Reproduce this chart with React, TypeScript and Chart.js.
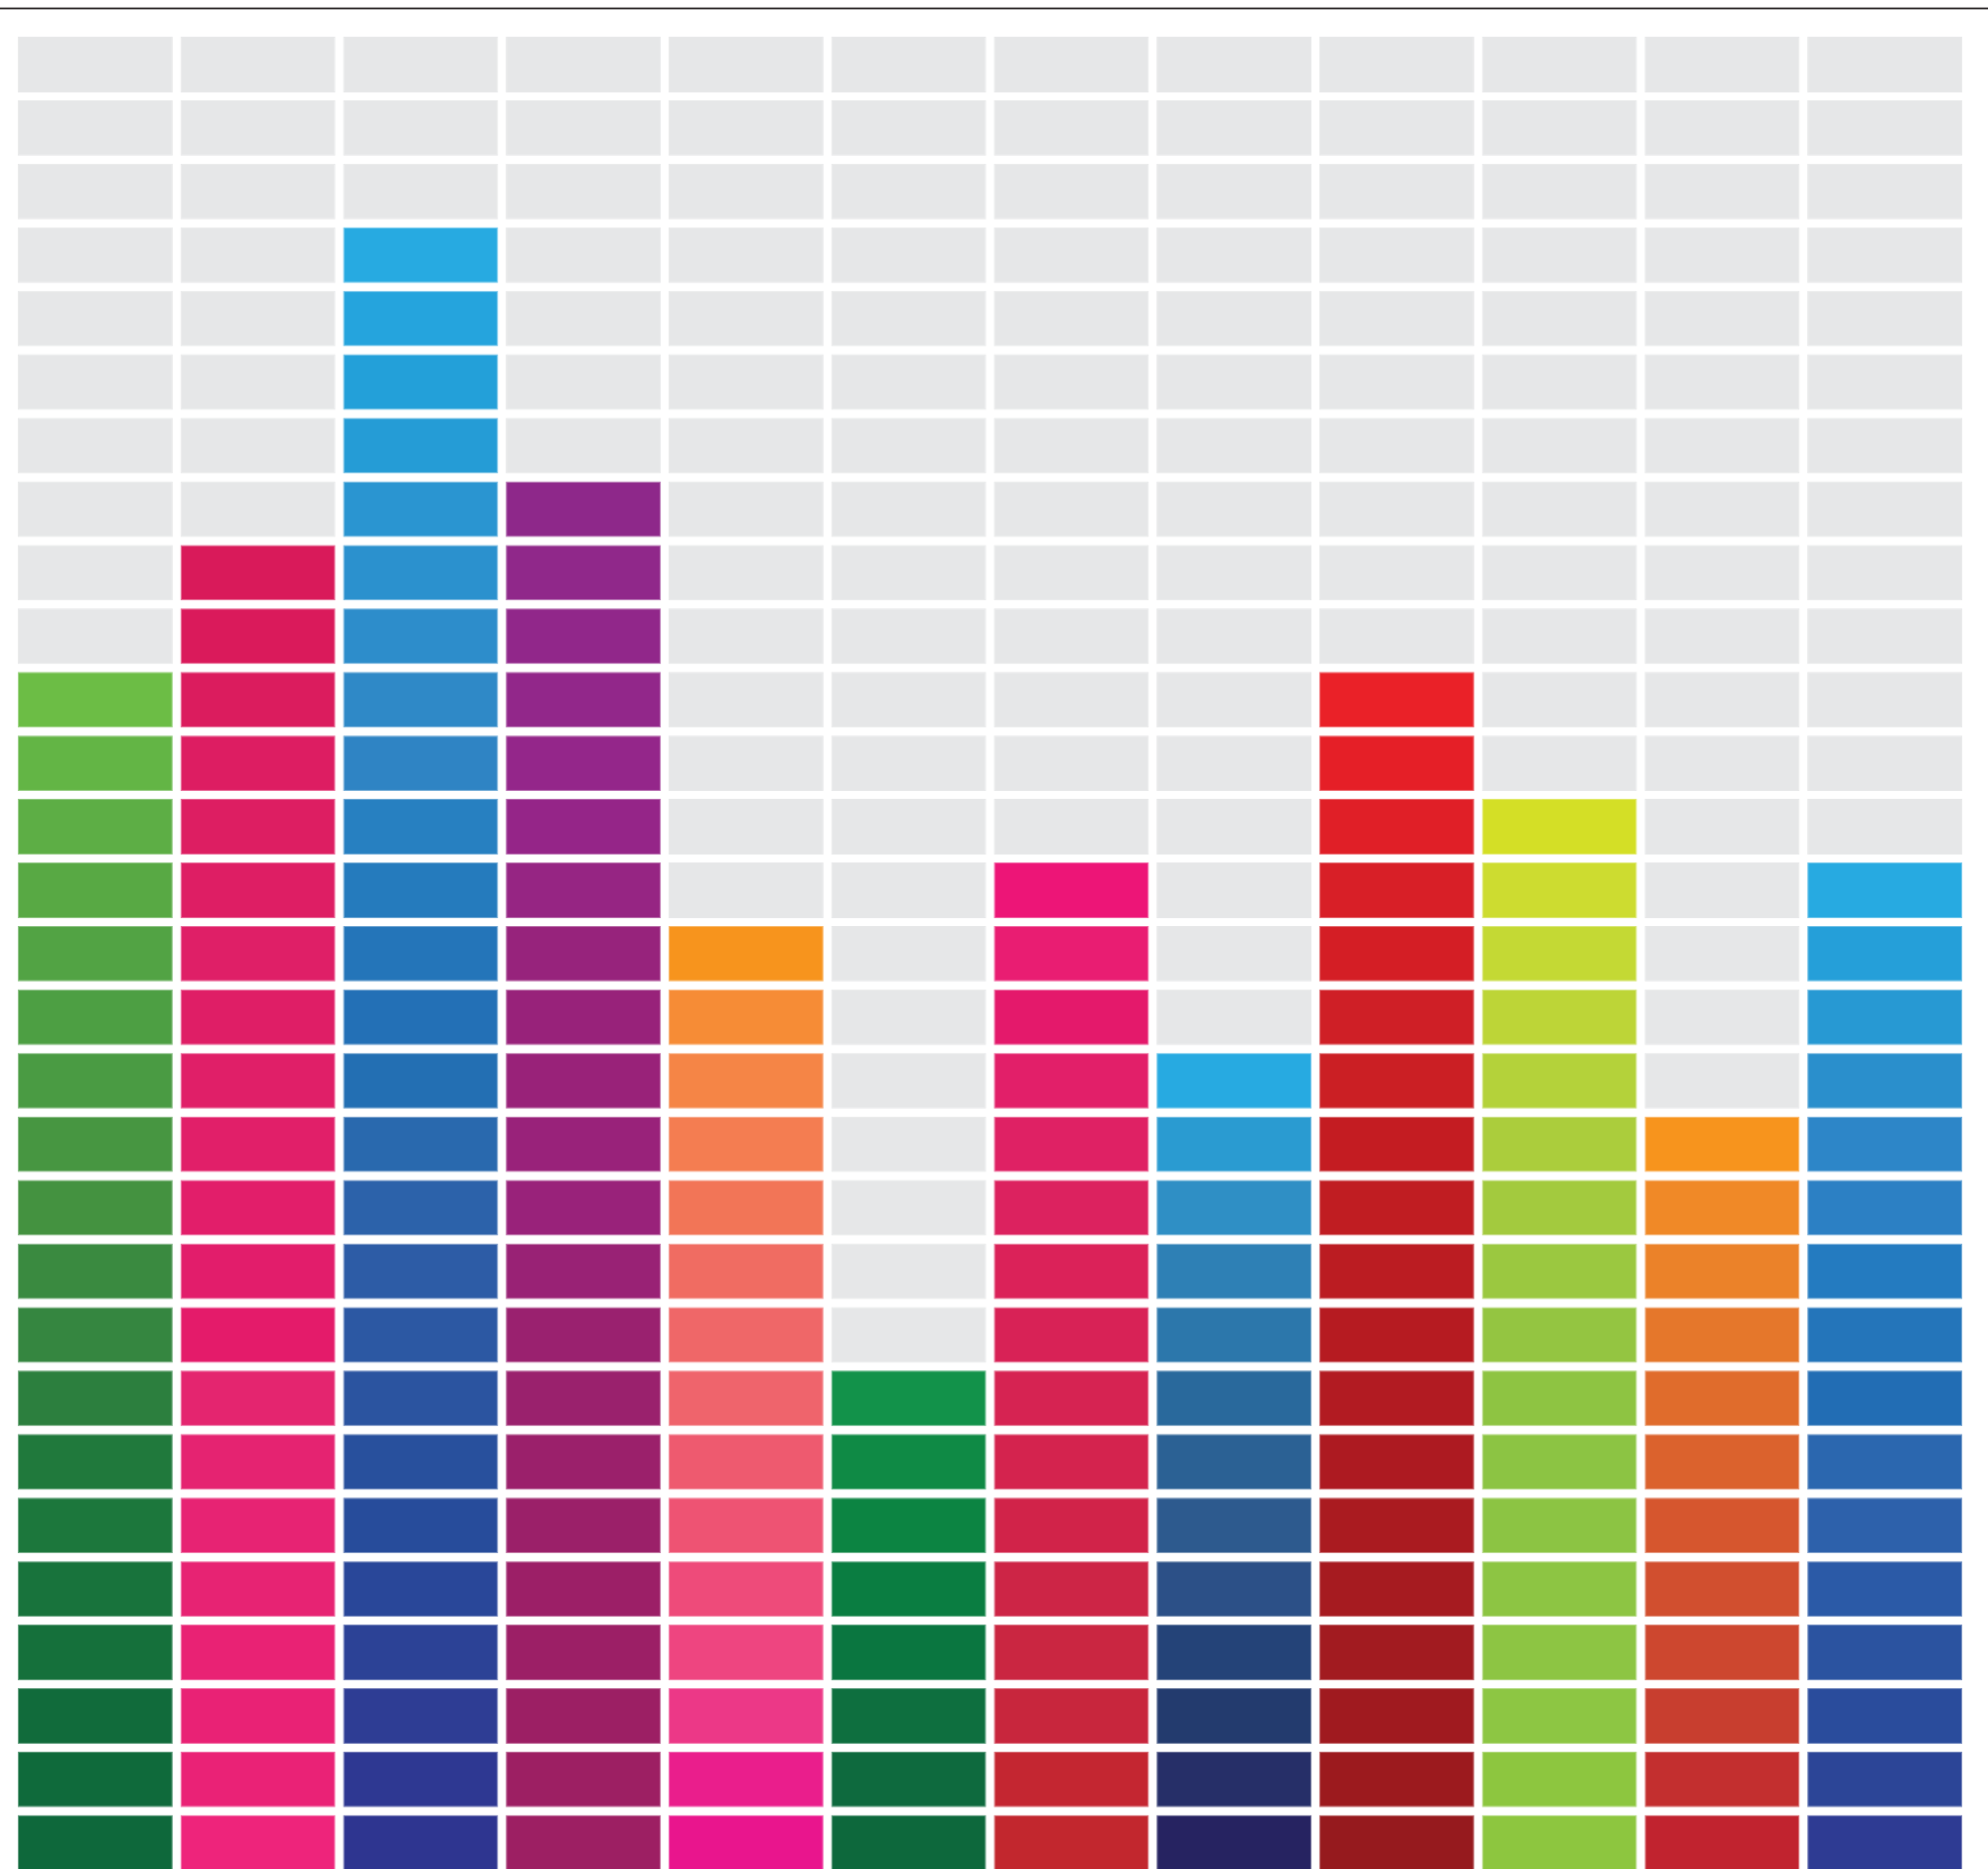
import React, { useEffect, useRef } from "react";
import { Chart, registerables } from "chart.js";

Chart.register(...registerables);

// 12 columns, 29 rows of cells; number of coloured cells per column (from the bottom)
const columns = ["1", "2", "3", "4", "5", "6", "7", "8", "9", "10", "11", "12"];
const filled = [19, 21, 26, 22, 15, 8, 16, 13, 19, 17, 12, 16];
const rowCount = 29;

// colours of the coloured cells of each column, listed from the top cell down to the bottom cell
const col1 = ["#6cbd45", "#63b545", "#5dae45", "#58a944", "#52a344", "#4d9f43", "#4a9b43", "#479641", "#449240", "#3a8a40", "#358640", "#2c7f3e", "#20793c", "#1c773c", "#18733c", "#15703b", "#116b3b", "#0f6a3b", "#0e683b"];
const col2 = ["#d91a5a", "#da1a5b", "#db1c5e", "#dd1d62", "#dd1e62", "#de1e64", "#df1f67", "#df1e66", "#e01f68", "#e11f69", "#e21e6a", "#e21d6b", "#e41b6a", "#e4256f", "#e52371", "#e72373", "#e72373", "#e92274", "#e92275", "#ea2276", "#ee247b"];
const col3 = ["#27aae1", "#25a4dd", "#23a0d9", "#259cd6", "#2a95d1", "#2b91ce", "#2d8dcb", "#2f89c7", "#2f84c4", "#2780c1", "#257bbd", "#2475b9", "#2370b6", "#236fb3", "#2969ae", "#2c62aa", "#2d5ca6", "#2c58a3", "#2b54a0", "#28509d", "#274c9b", "#294799", "#2c4296", "#2e3d94", "#2e3892", "#2e3590"];
const col4 = ["#8e288a", "#90288a", "#91278a", "#92278a", "#94268a", "#952588", "#962583", "#97237c", "#98227a", "#992279", "#99227a", "#99227a", "#992275", "#9a216f", "#9a216d", "#9b206b", "#9b2069", "#9c1f67", "#9c1f66", "#9c1f64", "#9d1f63", "#9d1f63"];
const col5 = ["#f7941d", "#f68c36", "#f58546", "#f47d51", "#f27557", "#f06c62", "#ef6768", "#ef646c", "#ee5a6f", "#ee5373", "#ee4b7a", "#ee4580", "#ec3887", "#ea1e8c", "#e9158d"];
const col6 = ["#12924a", "#0f8a45", "#0c8442", "#0a7d41", "#0a7640", "#0e6f3f", "#0e6a3e", "#0d683c"];
const col7 = ["#ed1577", "#e91d72", "#e4196b", "#e21f69", "#df2164", "#dc225f", "#db2259", "#d82256", "#d62352", "#d4234e", "#d12349", "#cd2546", "#ca2641", "#c8263d", "#c42631", "#c2272e"];
const col8 = ["#27aae1", "#2a9bd1", "#2f8fc5", "#2e80b5", "#2c77ab", "#29699c", "#2b6194", "#2d5a8e", "#2c5087", "#244378", "#233b6e", "#262f68", "#262361"];
const col9 = ["#ea2128", "#e51f27", "#e01f27", "#d81f27", "#d41e25", "#cf1f26", "#cb1f24", "#c41c22", "#c01d22", "#bb1c22", "#b61b21", "#b21b22", "#ad1a21", "#aa1b20", "#a61b20", "#a21b20", "#a01a1f", "#9c1a1e", "#961a1e"];
const col10 = ["#d4df26", "#cddc30", "#c4d934", "#bdd537", "#b4d23a", "#abcd3c", "#a3ca3e", "#9bc840", "#94c541", "#8ec442", "#8cc443", "#8cc443", "#8dc543", "#8dc543", "#8dc643", "#8dc63f", "#8dc63f"];
const col11 = ["#f7941d", "#f08927", "#eb8229", "#e5772b", "#e06c2c", "#db622d", "#d6562e", "#d14f2f", "#cd472f", "#c83e2f", "#c32f2f", "#c1232f"];
const col12 = ["#27aae1", "#259fd9", "#2799d3", "#2a8fcc", "#2d86c8", "#2c80c4", "#247bc0", "#2475ba", "#226db4", "#2b67af", "#2d61ab", "#2b5aa7", "#2b53a0", "#2a4c9c", "#2c4597", "#2e3b93"];
const columnColors = [col1, col2, col3, col4, col5, col6, col7, col8, col9, col10, col11, col12];

const EMPTY = "#e6e7e8";
const GAP = 0.125; // fraction of a row left white between cells

function cellColor(col: number, row: number): string {
  if (row >= filled[col]) return EMPTY;
  const list = columnColors[col];
  const idx = filled[col] - 1 - row;
  return list[Math.max(0, Math.min(list.length - 1, idx))];
}

function lighten(hex: string, amt: number): string {
  const n = parseInt(hex.slice(1), 16);
  const r = (n >> 16) & 255, g = (n >> 8) & 255, b = n & 255;
  const m = (v: number) => Math.round(v + (255 - v) * amt);
  return `rgb(${m(r)},${m(g)},${m(b)})`;
}

const topRule = {
  id: "topRule",
  afterDraw(chart: any) {
    const ctx = chart.ctx;
    ctx.save();
    ctx.fillStyle = "#231f20";
    ctx.fillRect(0, 7.6, chart.width, 1.6);
    ctx.fillStyle = "#9a9a9a";
    ctx.fillRect(0, 9.2, chart.width, 0.7);
    ctx.restore();
  },
};

export default function App() {
  const ref = useRef<HTMLCanvasElement | null>(null);

  useEffect(() => {
    document.body.style.margin = "0";
    if (!ref.current) return;
    const datasets = Array.from({ length: rowCount }, (_, r) => ({
      label: `row ${r + 1}`,
      data: columns.map(() => [r + GAP / 2, r + 1 - GAP / 2]),
      backgroundColor: (ctx: any) => cellColor(ctx.dataIndex, r),
      borderColor: (ctx: any) => {
        const c = cellColor(ctx.dataIndex, r);
        return c === EMPTY ? EMPTY : lighten(c, 0.3);
      },
      borderWidth: 1,
      borderSkipped: false,
      grouped: false,
      barPercentage: 0.9527,
      categoryPercentage: 1,
    }));

    const chart = new Chart(ref.current, {
      type: "bar",
      data: { labels: columns, datasets: datasets as any },
      options: {
        animation: false,
        responsive: false,
        maintainAspectRatio: false,
        devicePixelRatio: 1,
        layout: { padding: { top: 33, left: 14, right: 22, bottom: 0 } },
        plugins: { legend: { display: false }, tooltip: { enabled: false } },
        scales: {
          x: { type: "category", display: false, offset: true, grid: { display: false } },
          y: { display: false, min: 0.09, max: 29, grid: { display: false } },
        },
      },
      plugins: [topRule],
    });
    return () => chart.destroy();
  }, []);

  return (
    <div style={{ width: 2001, height: 1881, background: "#ffffff" }}>
      <canvas ref={ref} width={2001} height={1881} style={{ display: "block" }} />
    </div>
  );
}
